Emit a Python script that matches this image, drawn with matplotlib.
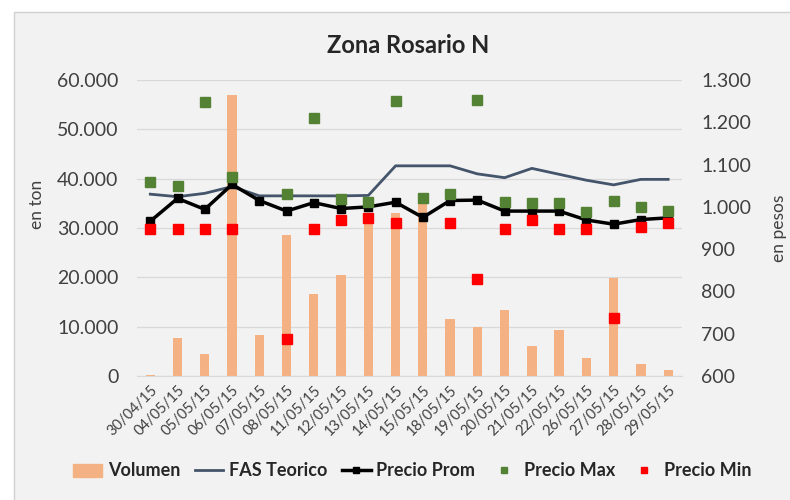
import numpy as np
import matplotlib
matplotlib.use('Agg')
import matplotlib.pyplot as plt
from matplotlib.patches import Rectangle, Patch
from matplotlib.lines import Line2D
from matplotlib.ticker import FuncFormatter

plt.rcParams['font.family'] = ['Lato', 'DejaVu Sans']

nan = np.nan
fechas = ['30/04/15', '04/05/15', '05/05/15', '06/05/15', '07/05/15', '08/05/15',
          '11/05/15', '12/05/15', '13/05/15', '14/05/15', '15/05/15', '18/05/15',
          '19/05/15', '20/05/15', '21/05/15', '22/05/15', '26/05/15', '27/05/15',
          '28/05/15', '29/05/15']
volumen = [300, 7800, 4400, 56900, 8400, 28600, 16600, 20400, 31500, 33000,
           34800, 11600, 9900, 13400, 6000, 9300, 3700, 19900, 2400, 1150]
fas_teorico = [1030, 1024, 1032, 1048, 1026, 1026, 1026, 1026, 1027, 1097,
               1097, 1097, 1078, 1069, 1091, 1077, 1063, 1052, 1065, 1065]
precio_prom = [966, 1020, 994, 1053, 1015, 990, 1010, 996, 1000, 1011,
               975, 1015, 1016, 990, 990, 990, 969, 959, 970, 974]
precio_max = [1058, 1049, 1247, 1071, nan, 1030, 1209, 1019, 1011, 1251,
              1020, 1030, 1253, 1012, 1008, 1008, 989, 1015, 1000, 991]
precio_min = [948, 948, 948, 948, nan, 688, 948, 970, 974, 961,
              nan, 961, 829, 948, 970, 948, 948, 736, 953, 961]

def miles(v, pos):
    return f'{int(v):,}'.replace(',', '.')

txt = '#404040'
fig = plt.figure(figsize=(7.9, 5), dpi=100)
fig.patch.set_facecolor('white')
fig.patches.append(Rectangle((0.018, -0.01), 1.0, 0.986, transform=fig.transFigure,
                             facecolor='#f2f2f2', edgecolor='#d0d0d0', lw=1, zorder=-10))

ax = fig.add_axes([0.173, 0.248, 0.69, 0.592])
ax.set_facecolor('none')
x = np.arange(len(fechas))
ax.bar(x, volumen, width=0.34, color='#f4b183', zorder=2)
ax.set_ylim(0, 60000)
ax.set_xlim(-0.5, len(fechas) - 0.5)
ax.set_yticks(np.arange(0, 60001, 10000))
ax.yaxis.set_major_formatter(FuncFormatter(miles))
ax.grid(axis='y', color='#d9d9d9', lw=0.9, zorder=0)
for s in ['top', 'right', 'left']:
    ax.spines[s].set_visible(False)
ax.spines['bottom'].set_color('#d9d9d9')
ax.tick_params(axis='both', length=0, colors=txt, labelsize=14)
ax.set_xticks(x)
ax.set_xticklabels(fechas, rotation=45, ha='right', rotation_mode='anchor', fontsize=10.5)
ax.tick_params(axis='x', pad=5)
ax.tick_params(axis='y', pad=13)
ax.set_ylabel('en ton', fontsize=12.5, color=txt)
ax.yaxis.set_label_coords(-0.169, 0.58)

ax2 = ax.twinx()
ax2.set_ylim(600, 1300)
ax2.set_yticks(np.arange(600, 1301, 100))
ax2.yaxis.set_major_formatter(FuncFormatter(miles))
for s in ax2.spines.values():
    s.set_visible(False)
ax2.tick_params(axis='y', length=0, colors=txt, labelsize=14, pad=14)
ax2.set_ylabel('en pesos', fontsize=12.5, color=txt)
ax2.yaxis.set_label_coords(1.163, 0.5)

ax2.plot(x, fas_teorico, color='#44546a', lw=2, zorder=3)
ax2.plot(x, precio_prom, color='black', lw=2.5, marker='s', ms=6, zorder=4)
ax2.plot(x, precio_max, ls='none', marker='s', ms=7.5, color='#548235', zorder=5)
ax2.plot(x, precio_min, ls='none', marker='s', ms=7.5, color='#ff0000', zorder=6)

fig.text(0.517, 0.909, 'Zona Rosario N', ha='center', va='center', fontsize=17,
         fontweight='bold', color='#262626')

handles = [Patch(color='#f4b183'),
           Line2D([], [], color='#44546a', lw=2),
           Line2D([], [], color='black', lw=2.5, marker='s', ms=5),
           Line2D([], [], ls='none', marker='s', ms=5, color='#548235'),
           Line2D([], [], ls='none', marker='s', ms=5, color='#ff0000')]
labels = ['Volumen', 'FAS Teorico', 'Precio Prom', 'Precio Max', 'Precio Min']
leg = fig.legend(handles, labels, loc='center', bbox_to_anchor=(0.522, 0.058), ncol=5,
                 frameon=False, fontsize=13, handlelength=1.6, columnspacing=0.8,
                 handletextpad=0.3)
for t in leg.get_texts():
    t.set_fontweight('bold')
    t.set_color('#262626')

fig.savefig('out.png', dpi=100, facecolor=fig.get_facecolor())
